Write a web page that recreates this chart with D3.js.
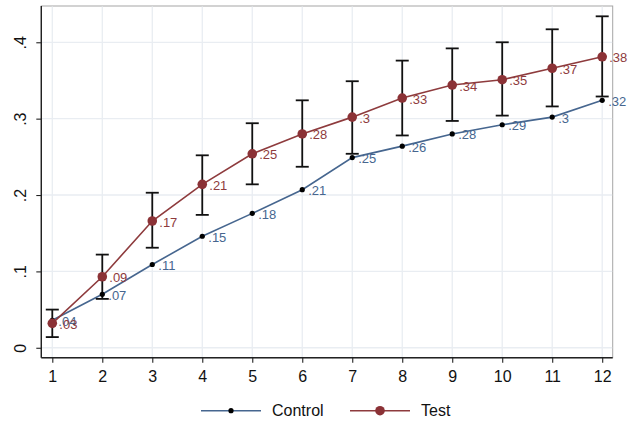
<!DOCTYPE html>
<html>
<head>
<meta charset="utf-8">
<script src="https://cdn.jsdelivr.net/npm/d3@7"></script>
<style>
  html, body { margin: 0; padding: 0; background: #fff; }
  svg { display: block; font-family: "Liberation Sans", Arial, Helvetica, sans-serif; }
</style>
</head>
<body>
<svg id="chart" width="632" height="421"></svg>
<script>
// Periods on the x axis
const periods = [1, 2, 3, 4, 5, 6, 7, 8, 9, 10, 11, 12];
// Mean share per period, control group
const controlValues = [0.036, 0.070, 0.109, 0.146, 0.176, 0.207, 0.249, 0.264, 0.280, 0.292, 0.302, 0.324];
// Mean share per period, test group
const testValues = [0.032, 0.093, 0.166, 0.214, 0.254, 0.280, 0.302, 0.327, 0.344, 0.351, 0.366, 0.381];
// Confidence interval for the test group
const testLower = [0.014, 0.064, 0.131, 0.174, 0.214, 0.237, 0.254, 0.278, 0.297, 0.304, 0.316, 0.329];
const testUpper = [0.050, 0.122, 0.203, 0.252, 0.294, 0.324, 0.349, 0.376, 0.392, 0.400, 0.417, 0.434];
// Axis ticks
const yTicks = [0, 0.1, 0.2, 0.3, 0.4];
const xTicks = periods;
const seriesNames = ["Control", "Test"];

const controlColor = "#46668f";
const testColor = "#8e3b3d";
const testMarker = "#8b3236";
const gridColor = "#e9edf2";

const svg = d3.select("#chart");

const x = d3.scaleLinear().domain([0.78, 12.21]).range([41.3, 612.7]);
const y = d3.scaleLinear().domain([-0.013, 0.4475]).range([357.7, 6]);

const [x0, x1] = x.range();
const [y0, y1] = y.range();

// Plot frame (grey top/right edges)
svg.append("rect")
  .attr("x", x0).attr("y", y1)
  .attr("width", x1 - x0).attr("height", y0 - y1)
  .attr("fill", "#fff")
  .attr("stroke", "#a6a6a6").attr("stroke-width", 1);

// Grid
const grid = svg.append("g");
grid.selectAll("line.gx").data(xTicks).join("line")
  .attr("x1", d => x(d)).attr("x2", d => x(d))
  .attr("y1", y1 + 0.5).attr("y2", y0)
  .attr("stroke", gridColor).attr("stroke-width", 1.3);
grid.selectAll("line.gy").data(yTicks).join("line")
  .attr("y1", d => y(d)).attr("y2", d => y(d))
  .attr("x1", x0).attr("x2", x1 - 0.5)
  .attr("stroke", gridColor).attr("stroke-width", 1.3);

// Axes
const fmtTick = d => d === 0 ? "0" : d3.format(".1f")(d).replace(/^0/, "");
const yAxis = d3.axisLeft(y).tickValues(yTicks).tickSize(5).tickPadding(6).tickFormat(fmtTick);
const xAxis = d3.axisBottom(x).tickValues(xTicks).tickSize(5).tickPadding(4).tickFormat(d3.format("d"));

const gy = svg.append("g").attr("transform", `translate(${x0},0)`).call(yAxis);
const gx = svg.append("g").attr("transform", `translate(0,${y0})`).call(xAxis);

[gx, gy].forEach(g => {
  g.select(".domain").attr("stroke", "#222").attr("stroke-width", 1.4);
  g.selectAll(".tick line").attr("stroke", "#222").attr("stroke-width", 1.1);
  g.selectAll(".tick text").attr("fill", "#111").attr("font-size", 16)
    .attr("font-family", "Liberation Sans, Arial, sans-serif");
});
// keep axis lines on the frame edges
gy.select(".domain").attr("d", `M0,${y0}V${y1}`);
gx.select(".domain").attr("d", `M${x0},0H${x1}`);

// Rotated y tick labels
gy.selectAll(".tick text")
  .attr("x", null).attr("dy", null)
  .attr("text-anchor", "middle")
  .attr("transform", "translate(-15,0) rotate(-90)");

gx.selectAll(".tick text").attr("dy", "0.95em");

const fmtVal = d => d3.format(".2~f")(d).replace(/^0/, "");

const data = periods.map((p, i) => ({
  p, c: controlValues[i], t: testValues[i], lo: testLower[i], hi: testUpper[i]
}));

const line = key => d3.line().x(d => x(d.p)).y(d => y(d[key]));

// Control series
svg.append("path").datum(data)
  .attr("d", line("c"))
  .attr("fill", "none").attr("stroke", controlColor).attr("stroke-width", 1.6);

// Test series
svg.append("path").datum(data)
  .attr("d", line("t"))
  .attr("fill", "none").attr("stroke", testColor).attr("stroke-width", 1.6);

// Test confidence intervals
const bars = svg.append("g").attr("stroke", "#111").attr("stroke-width", 1.8);
bars.selectAll("line.v").data(data).join("line")
  .attr("x1", d => x(d.p)).attr("x2", d => x(d.p))
  .attr("y1", d => y(d.lo)).attr("y2", d => y(d.hi));
bars.selectAll("line.lo").data(data).join("line")
  .attr("x1", d => x(d.p) - 6.5).attr("x2", d => x(d.p) + 6.5)
  .attr("y1", d => y(d.lo)).attr("y2", d => y(d.lo));
bars.selectAll("line.hi").data(data).join("line")
  .attr("x1", d => x(d.p) - 6.5).attr("x2", d => x(d.p) + 6.5)
  .attr("y1", d => y(d.hi)).attr("y2", d => y(d.hi));

// Markers
svg.append("g").selectAll("circle").data(data).join("circle")
  .attr("cx", d => x(d.p)).attr("cy", d => y(d.c)).attr("r", 2.6).attr("fill", "#000");
svg.append("g").selectAll("circle").data(data).join("circle")
  .attr("cx", d => x(d.p)).attr("cy", d => y(d.t)).attr("r", 4.8).attr("fill", testMarker);

// Value labels
svg.append("g").selectAll("text").data(data).join("text")
  .attr("x", d => x(d.p) + 6).attr("y", d => y(d.c) + 1)
  .attr("dy", "0.35em")
  .attr("font-size", 13).attr("fill", controlColor)
  .text(d => fmtVal(d.c));
svg.append("g").selectAll("text").data(data).join("text")
  .attr("x", d => x(d.p) + 7).attr("y", d => y(d.t) + 1)
  .attr("dy", "0.35em")
  .attr("font-size", 13).attr("fill", testColor)
  .text(d => fmtVal(d.t));

// Legend
const legend = svg.append("g").attr("transform", "translate(0,410.7)");
const items = [
  { name: seriesNames[0], x: 201, color: controlColor, r: 2.6, fill: "#000" },
  { name: seriesNames[1], x: 350, color: testColor, r: 4.8, fill: testMarker }
];
items.forEach(it => {
  legend.append("line")
    .attr("x1", it.x).attr("x2", it.x + 60)
    .attr("stroke", it.color).attr("stroke-width", 1.6);
  legend.append("circle")
    .attr("cx", it.x + 30).attr("r", it.r).attr("fill", it.fill);
  legend.append("text")
    .attr("x", it.x + 71).attr("dy", "0.36em")
    .attr("font-size", 16).attr("fill", "#111")
    .text(it.name);
});
</script>
</body>
</html>
